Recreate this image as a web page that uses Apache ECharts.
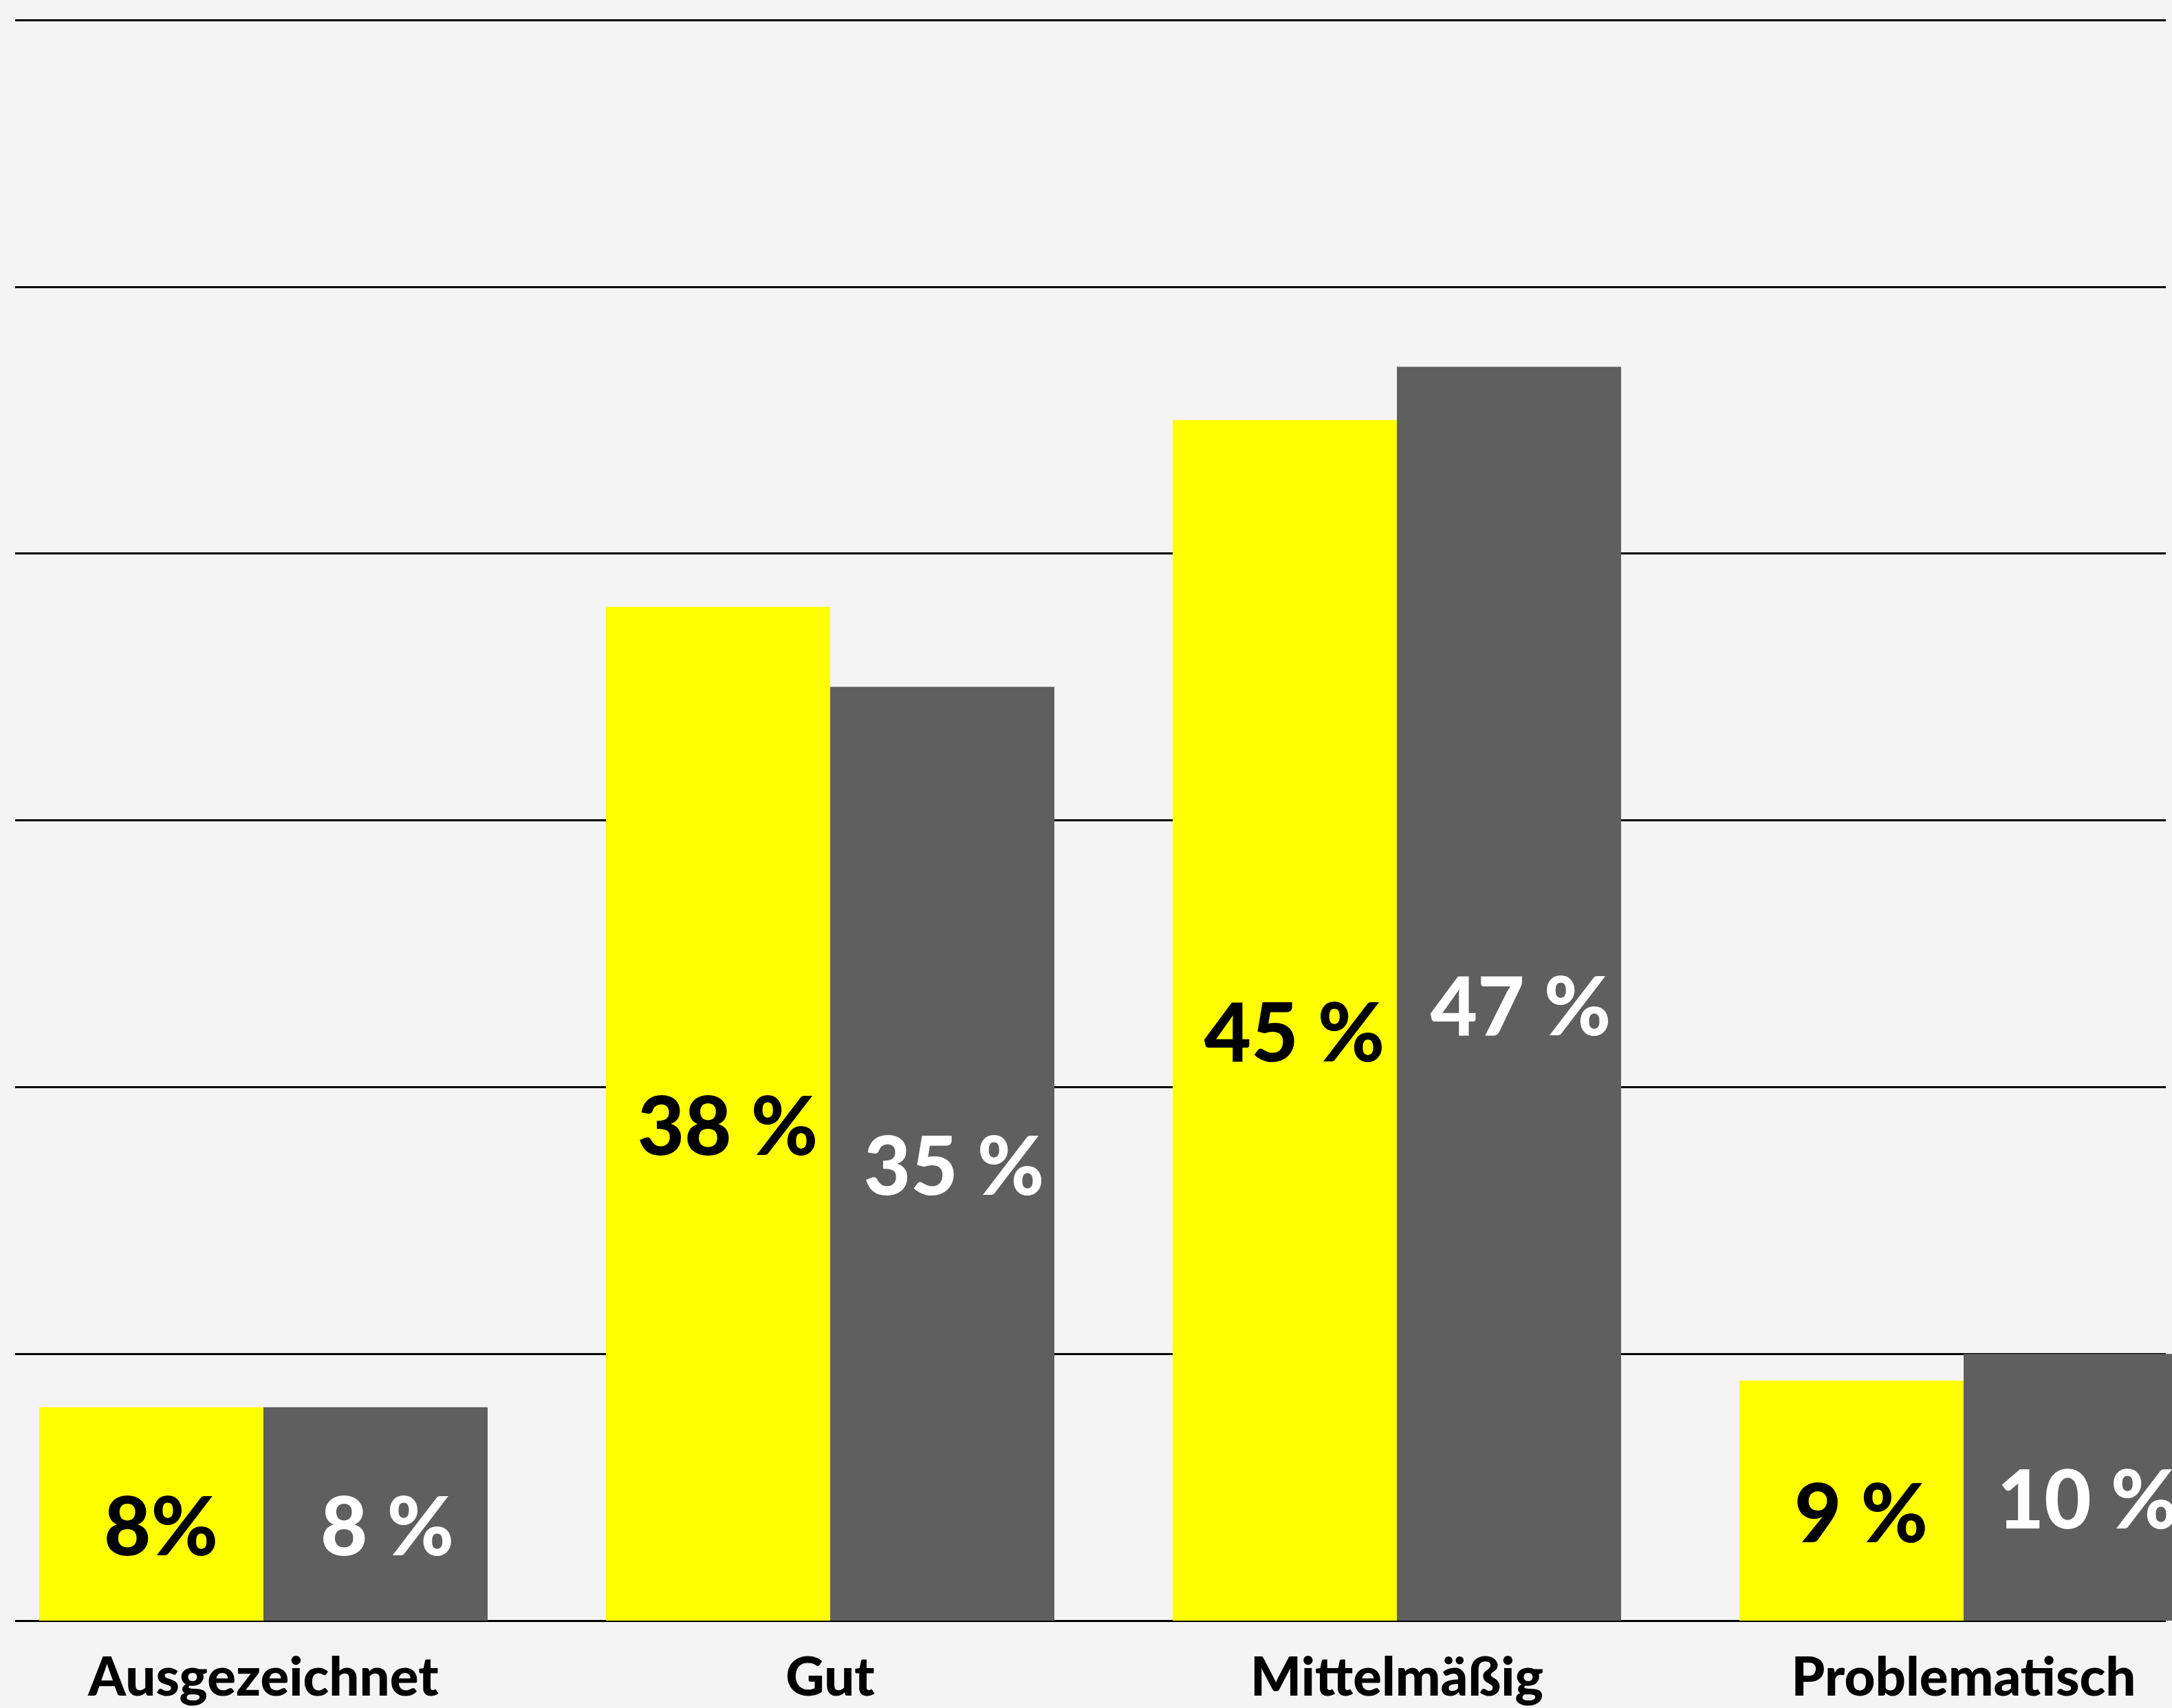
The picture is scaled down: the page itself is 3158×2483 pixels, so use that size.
<!DOCTYPE html>
<html>
<head>
<meta charset="utf-8">
<script src="https://cdn.jsdelivr.net/npm/echarts@6/dist/echarts.min.js"></script>
<style>
html,body{margin:0;padding:0;background:#f4f4f4;}
#chart{width:3158px;height:2483px;}
</style>
</head>
<body>
<div id="chart"></div>
<script>
const categories = ['Ausgezeichnet', 'Gut', 'Mittelmäßig', 'Problematisch'];
const seriesA = [8, 38, 45, 9];
const seriesB = [8, 35, 47, 10];
const labelsA = ['8%', '38 %', '45 %', '9 %'];
const labelsB = ['8 %', '35 %', '47 %', '10 %'];
const yTicks = [0, 10, 20, 30, 40, 50, 60];

const FONT = 'Lato';
const chart = echarts.init(document.getElementById('chart'), null, {renderer: 'canvas'});

const option = {
  backgroundColor: '#f4f4f4',
  animation: false,
  grid: [
    {left: -29, width: 3296, top: 29, bottom: 127, outerBoundsMode: 'none', containLabel: false},
    {left: 22, right: 9, top: 29, bottom: 127, outerBoundsMode: 'none', containLabel: false}
  ],
  xAxis: [
    {
      type: 'category', gridIndex: 0, data: categories,
      axisLine: {show: false}, axisTick: {show: false}, splitLine: {show: false},
      axisLabel: {
        show: true, margin: 45, color: '#000',
        fontFamily: FONT, fontWeight: 900, fontSize: 78
      }
    },
    {
      type: 'value', gridIndex: 1, min: 0, max: 1,
      show: false
    }
  ],
  yAxis: [
    {
      type: 'value', gridIndex: 0, min: yTicks[0], max: yTicks[yTicks.length - 1], interval: 10,
      show: false, splitLine: {show: false}
    },
    {
      type: 'value', gridIndex: 1, min: yTicks[0], max: yTicks[yTicks.length - 1], interval: 10,
      axisLine: {show: false}, axisTick: {show: false}, axisLabel: {show: false},
      splitLine: {show: true, lineStyle: {color: '#000', width: 3}}
    }
  ],
  series: [
    {
      type: 'bar', name: 'A', xAxisIndex: 0, yAxisIndex: 0,
      data: seriesA, barWidth: 326, barGap: '0%',
      itemStyle: {color: '#ffff00'},
      label: {
        show: true, position: 'inside', offset: [14, 22],
        color: '#000', fontFamily: FONT, fontWeight: 900, fontSize: 118,
        formatter: p => labelsA[p.dataIndex]
      }
    },
    {
      type: 'bar', name: 'B', xAxisIndex: 0, yAxisIndex: 0,
      data: seriesB, barWidth: 326, barGap: '0%',
      itemStyle: {color: '#5f5f5f'},
      label: {
        show: true, position: 'inside', offset: [17, 22],
        color: '#fff', fontFamily: FONT, fontWeight: 900, fontSize: 118,
        formatter: p => labelsB[p.dataIndex]
      }
    }
  ]
};
chart.setOption(option);
</script>
</body>
</html>
